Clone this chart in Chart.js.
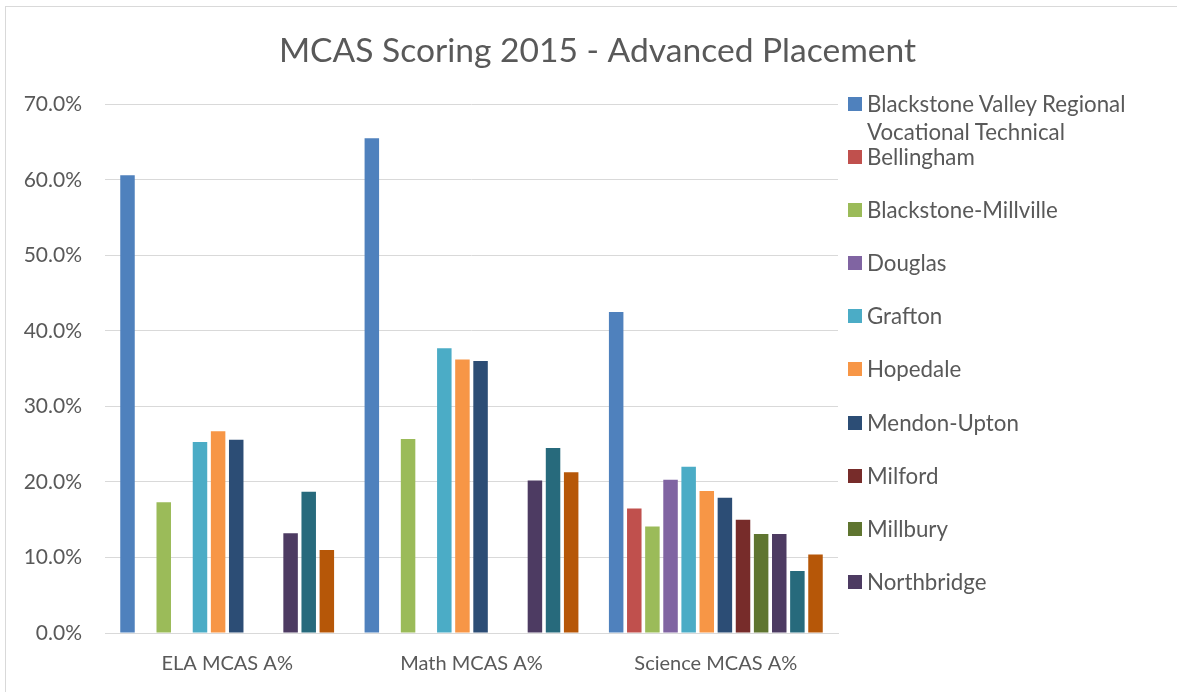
<!DOCTYPE html>
<html>
<head>
<meta charset="utf-8">
<title>MCAS Scoring 2015 - Advanced Placement</title>
<script src="https://cdn.jsdelivr.net/npm/chart.js@4"></script>
<style>
    body { margin: 0; background: #fff; }
    #wrap { position: relative; width: 1177px; height: 692px; overflow: hidden; }
    #frame { position: absolute; left: 5px; top: 6px; width: 1200px; height: 700px; border: 1px solid #d9d9d9; box-sizing: border-box; }
    #chart { position: absolute; left: 0; top: 0; }
    #legend { position: absolute; left: 848px; top: 90px; margin: 0; padding: 0; list-style: none;
              font-family: Lato, sans-serif; font-size: 22.3px; color: #595959; width: 320px; }
    #legend li { position: relative; height: 53.1px; padding-left: 19px; line-height: 28px; }
    #legend li .box { position: absolute; left: 0; top: 7px; width: 14px; height: 14px; }
    #legend li .txt { display: block; max-width: 275px; white-space: normal; }
</style>
</head>
<body>
<div id="wrap">
    <div id="frame"></div>
    <canvas id="chart" width="1177" height="692"></canvas>
    <ul id="legend"></ul>
</div>
<script>
const categories = ['ELA MCAS A%', 'Math MCAS A%', 'Science MCAS A%'];

const schools = [
    'Blackstone Valley Regional Vocational Technical',
    'Bellingham',
    'Blackstone-Millville',
    'Douglas',
    'Grafton',
    'Hopedale',
    'Mendon-Upton',
    'Milford',
    'Millbury',
    'Northbridge',
    'Sutton',
    'Uxbridge'
];

const schoolColors = [
    '#4f81bd', '#c0504d', '#9bbb59', '#8064a2', '#4bacc6', '#f79646',
    '#2c4d75', '#772c2a', '#5f7530', '#4d3b62', '#276a7c', '#b65708'
];

// percent advanced, null = no bar shown
const elaValues     = [60.6, null, 17.3, null, 25.3, 26.7, 25.6, null, null, 13.2, 18.7, 11.0];
const mathValues    = [65.5, null, 25.7, null, 37.7, 36.2, 36.0, null, null, 20.2, 24.5, 21.3];
const scienceValues = [42.5, 16.5, 14.1, 20.3, 22.0, 18.8, 17.9, 15.0, 13.1, 13.1, 8.2, 10.4];

// the legend in the original only has room for the first ten entries
const legendShown = 10;

const textColor = '#595959';
const gridColor = '#d9d9d9';

Chart.defaults.font.family = "Lato, 'Open Sans', sans-serif";
Chart.defaults.color = textColor;

const htmlLegend = {
    id: 'htmlLegend',
    afterUpdate(chart) {
        const ul = document.getElementById('legend');
        ul.innerHTML = '';
        const items = chart.options.plugins.legend.labels.generateLabels(chart);
        items.slice(0, legendShown).forEach(item => {
            const li = document.createElement('li');
            const box = document.createElement('span');
            box.className = 'box';
            box.style.background = item.fillStyle;
            const txt = document.createElement('span');
            txt.className = 'txt';
            txt.textContent = item.text;
            li.appendChild(box);
            li.appendChild(txt);
            ul.appendChild(li);
        });
    }
};

const datasets = schools.map((name, i) => ({
    label: name,
    data: [elaValues[i], mathValues[i], scienceValues[i]],
    backgroundColor: schoolColors[i],
    borderWidth: 0,
    categoryPercentage: 0.89,
    barPercentage: 0.8
}));

new Chart(document.getElementById('chart').getContext('2d'), {
    type: 'bar',
    data: { labels: categories, datasets: datasets },
    plugins: [htmlLegend],
    options: {
        responsive: false,
        animation: false,
        layout: { padding: { top: 0, left: 18, right: 0, bottom: 0 } },
        plugins: {
            legend: { display: false },
            tooltip: { enabled: false },
            title: {
                display: true,
                text: 'MCAS Scoring 2015 - Advanced Placement',
                color: textColor,
                font: { size: 33.6, weight: 'normal' },
                padding: { top: 31, bottom: 33 }
            }
        },
        scales: {
            x: {
                grid: { display: false, drawTicks: false },
                border: { color: gridColor, width: 1 },
                ticks: { font: { size: 20 }, padding: 19, color: textColor },
                afterFit: scale => { scale.height = 59; }
            },
            y: {
                min: 0,
                max: 70,
                grid: { color: gridColor, lineWidth: 1, drawTicks: false },
                border: { display: false },
                ticks: {
                    stepSize: 10,
                    padding: 23,
                    font: { size: 21 },
                    color: textColor,
                    callback: v => v.toFixed(1) + '%'
                },
                afterFit: scale => { scale.width = 87; }
            },
            // empty right-hand axis keeps the space where the legend sits
            legendSpace: {
                type: 'linear',
                position: 'right',
                grid: { display: false, drawTicks: false },
                border: { display: false },
                ticks: { display: false },
                afterFit: scale => { scale.width = 339; }
            }
        }
    }
});
</script>
</body>
</html>
